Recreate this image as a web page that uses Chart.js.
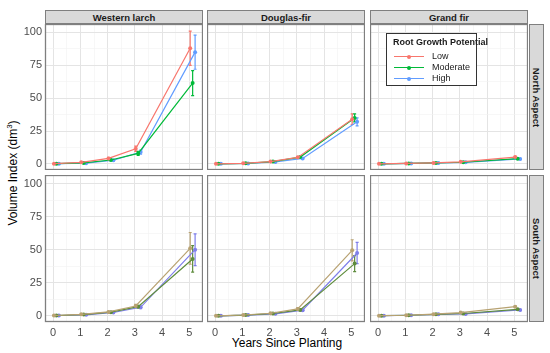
<!DOCTYPE html>
<html>
<head>
<meta charset="utf-8">
<script src="https://cdn.jsdelivr.net/npm/chart.js@4/dist/chart.umd.min.js"></script>
<style>
body { margin: 0; background: #fff; width: 550px; height: 353px; position: relative; overflow: hidden;
       font-family: "Liberation Sans", Arial, sans-serif; }
canvas { position: absolute; }
.strip { position: absolute; background: #D9D9D9; border: 1px solid #7F7F7F; box-sizing: border-box;
         font-weight: bold; font-size: 9.5px; color: #1A1A1A; display: flex; align-items: center; justify-content: center; }
.strip.side span { transform: rotate(90deg); white-space: nowrap; }
.title { position: absolute; font-size: 12px; color: #000; white-space: nowrap; }
#legend { position: absolute; left: 386px; top: 33px; width: 91px; height: 53px; box-sizing: border-box;
          border: 1px solid #333; background: #fff; font-size: 9px; color: #1A1A1A; z-index: 2; }
#legend .lt { position: absolute; left: 6px; top: 3px; font-weight: bold; white-space: nowrap; }
#legend .row { position: absolute; left: 0; height: 10px; width: 100%; }
#legend .ln { position: absolute; left: 7px; top: 5px; width: 30px; height: 1.2px; }
#legend .dt { position: absolute; left: 20px; top: 3.6px; width: 4px; height: 4px; border-radius: 50%; }
#legend .tx { position: absolute; left: 45px; top: 0; }
</style>
</head>
<body>
<div class="title" id="ytitle" style="left:12px;top:173px;transform:translate(-50%,-50%) rotate(-90deg);">Volume Index (dm<sup style="font-size:8px">3</sup>)</div>
<div class="title" style="left:287px;top:343px;transform:translate(-50%,-50%);">Years Since Planting</div>
<div id="legend"><div class="lt">Root Growth Potential</div></div>
<script>
const years = [0, 1, 2, 3, 5];
const species = ['Western larch', 'Douglas-fir', 'Grand fir'];
const aspects = ['North Aspect', 'South Aspect'];
const potentials = ['Low', 'Moderate', 'High'];
const xTickLabels = [0, 1, 2, 3, 4, 5];
const yTickLabels = [0, 25, 50, 75, 100];

// means [Low, Moderate, High] and half-width of the error bars
const larchNorthMean = [[0.2, 1.2, 4.2, 11.5, 88], [0.2, 0.8, 3.0, 8.0, 61.5], [0.2, 0.6, 2.8, 9.0, 85]];
const larchNorthErr  = [[0.1, 0.3, 0.8, 2.0, 13], [0.1, 0.2, 0.5, 1.5, 9.5], [0.1, 0.2, 0.5, 1.5, 13]];
const dfirNorthMean  = [[0.1, 0.5, 1.8, 5.0, 34], [0.1, 0.5, 1.8, 5.2, 35], [0.1, 0.4, 1.5, 4.2, 32]];
const dfirNorthErr   = [[0, 0.1, 0.3, 0.6, 4], [0, 0.1, 0.3, 0.6, 3], [0, 0.1, 0.3, 0.5, 3]];
const gfirNorthMean  = [[0.1, 0.4, 0.8, 1.6, 5.2], [0.1, 0.4, 0.8, 1.3, 4.0], [0.1, 0.4, 0.8, 1.2, 3.8]];
const gfirNorthErr   = [[0, 0.1, 0.1, 0.2, 0.6], [0, 0.1, 0.1, 0.2, 0.5], [0, 0.1, 0.1, 0.2, 0.5]];
const larchSouthMean = [[0.3, 1.2, 3.0, 7.5, 51], [0.3, 1.0, 2.8, 7.0, 43], [0.3, 0.8, 2.6, 6.5, 50]];
const larchSouthErr  = [[0.1, 0.2, 0.4, 1.2, 12], [0.1, 0.2, 0.4, 1.0, 10], [0.1, 0.2, 0.4, 1.0, 12]];
const dfirSouthMean  = [[0.1, 0.7, 2.0, 5.3, 49.5], [0.1, 0.6, 1.8, 4.5, 39.5], [0.1, 0.6, 1.6, 4.3, 47.5]];
const dfirSouthErr   = [[0, 0.1, 0.3, 0.8, 8], [0, 0.1, 0.3, 0.6, 6], [0, 0.1, 0.3, 0.6, 8]];
const gfirSouthMean  = [[0.2, 0.5, 1.3, 2.5, 7.0], [0.2, 0.5, 1.2, 1.8, 5.0], [0.2, 0.5, 1.2, 1.5, 4.5]];
const gfirSouthErr   = [[0, 0.1, 0.1, 0.3, 0.6], [0, 0.1, 0.1, 0.2, 0.5], [0, 0.1, 0.1, 0.2, 0.5]];

const panels = [
  [[larchNorthMean, larchNorthErr], [dfirNorthMean, dfirNorthErr], [gfirNorthMean, gfirNorthErr]],
  [[larchSouthMean, larchSouthErr], [dfirSouthMean, dfirSouthErr], [gfirSouthMean, gfirSouthErr]]
];

const rowColors = [['#F8766D', '#00BA38', '#619CFF'], ['#B8A272', '#5E8C3C', '#7E7EEA']];
const dodge = [0.03, 0.12, 0.21];
const colX = [45, 207, 370], colW = 158;
const rowY = [24, 175], rowH = [146, 147];

// strips
species.forEach((s, c) => {
  const d = document.createElement('div');
  d.className = 'strip';
  d.style.cssText = `left:${colX[c]}px;top:10px;width:${colW}px;height:14px;`;
  d.textContent = s;
  document.body.appendChild(d);
});
aspects.forEach((a, r) => {
  const d = document.createElement('div');
  d.className = 'strip side';
  d.style.cssText = `left:529px;top:${rowY[r]}px;width:15px;height:${rowH[r]}px;`;
  d.innerHTML = '<span>' + a + '</span>';
  document.body.appendChild(d);
});

// legend rows
const leg = document.getElementById('legend');
potentials.forEach((p, i) => {
  const row = document.createElement('div');
  row.className = 'row';
  row.style.top = (17 + i * 11) + 'px';
  const col = rowColors[0][i];
  row.innerHTML = `<div class="ln" style="background:${col}"></div><div class="dt" style="background:${col}"></div><div class="tx">${p}</div>`;
  leg.appendChild(row);
});

const errorBars = {
  id: 'errorBars',
  beforeDatasetsDraw(chart) {
    const { ctx, chartArea: a, scales: { x, y } } = chart;
    ctx.save();
    ctx.beginPath();
    ctx.rect(a.left, a.top, a.right - a.left, a.bottom - a.top);
    ctx.clip();
    chart.data.datasets.forEach(ds => {
      ctx.strokeStyle = ds.borderColor;
      ctx.lineWidth = 1.2;
      ds.data.forEach((p, i) => {
        const e = ds.errors[i];
        if (!e) return;
        const px = x.getPixelForValue(p.x);
        const y1 = y.getPixelForValue(p.y - e), y2 = y.getPixelForValue(p.y + e);
        ctx.beginPath();
        ctx.moveTo(px, y1); ctx.lineTo(px, y2);
        ctx.moveTo(px - 1.5, y1); ctx.lineTo(px + 1.5, y1);
        ctx.moveTo(px - 1.5, y2); ctx.lineTo(px + 1.5, y2);
        ctx.stroke();
      });
    });
    ctx.restore();
  }
};

const panelBorder = {
  id: 'panelBorder',
  afterDraw(chart) {
    const { ctx, chartArea: a } = chart;
    ctx.save();
    ctx.strokeStyle = '#7F7F7F';
    ctx.lineWidth = 1.3;
    ctx.strokeRect(a.left + 0.5, a.top + 0.5, a.right - a.left - 1, a.bottom - a.top - 1);
    ctx.restore();
  }
};

const tickFont = { family: '"Liberation Sans", Arial, sans-serif', size: 11 };
const gridColor = (major) => (c) => major(c.tick.value) ? '#E4E4E4' : '#F1F1F1';
const noPad = s => { s.paddingTop = 0; s.paddingBottom = 0; s.paddingLeft = 0; s.paddingRight = 0; };

for (let r = 0; r < 2; r++) {
  for (let c = 0; c < 3; c++) {
    const [means, errs] = panels[r][c];
    const leftPad = c === 0 ? 45 : 0;
    const botPad = r === 1 ? 20 : 0;
    const cv = document.createElement('canvas');
    const w = colW + leftPad, h = rowH[r] + botPad;
    cv.width = w; cv.height = h;
    cv.style.cssText = `left:${colX[c] - leftPad}px;top:${rowY[r]}px;width:${w}px;height:${h}px;`;
    document.body.appendChild(cv);

    const datasets = potentials.map((p, i) => ({
      label: p,
      data: years.map((yr, k) => ({ x: yr + dodge[i], y: means[i][k] })),
      errors: errs[i],
      borderColor: rowColors[r][i],
      backgroundColor: rowColors[r][i],
      borderWidth: 1.2,
      pointRadius: 2,
      pointBorderWidth: 0,
      showLine: true
    }));

    new Chart(cv, {
      type: 'scatter',
      data: { datasets },
      options: {
        responsive: false,
        animation: false,
        events: [],
        layout: { padding: 0, autoPadding: false },
        plugins: { legend: { display: false }, tooltip: { enabled: false } },
        scales: {
          x: {
            type: 'linear', min: -0.3, max: 5.5,
            afterBuildTicks: s => { s.ticks = [0, 0.5, 1, 1.5, 2, 2.5, 3, 3.5, 4, 4.5, 5, 5.5].map(v => ({ value: v })); },
            afterFit: s => { s.height = botPad; noPad(s); },
            grid: { drawTicks: false, color: gridColor(v => xTickLabels.includes(v)), lineWidth: c2 => xTickLabels.includes(c2.tick.value) ? 1 : 0.6 },
            border: { display: false },
            ticks: { display: r === 1, padding: 4, font: tickFont, color: '#4D4D4D', maxRotation: 0, autoSkip: false,
                     callback: v => xTickLabels.includes(v) ? String(v) : '' }
          },
          y: {
            type: 'linear', min: -4.6, max: 106.4,
            afterBuildTicks: s => { s.ticks = [0, 12.5, 25, 37.5, 50, 62.5, 75, 87.5, 100].map(v => ({ value: v })); },
            afterFit: s => { s.width = leftPad; noPad(s); },
            grid: { drawTicks: false, color: gridColor(v => yTickLabels.includes(v)), lineWidth: c2 => yTickLabels.includes(c2.tick.value) ? 1 : 0.6 },
            border: { display: false },
            ticks: { display: c === 0, padding: 3, font: tickFont, color: '#4D4D4D', autoSkip: false,
                     callback: v => yTickLabels.includes(v) ? String(v) : '' }
          }
        }
      },
      plugins: [errorBars, panelBorder]
    });
  }
}
</script>
</body>
</html>
